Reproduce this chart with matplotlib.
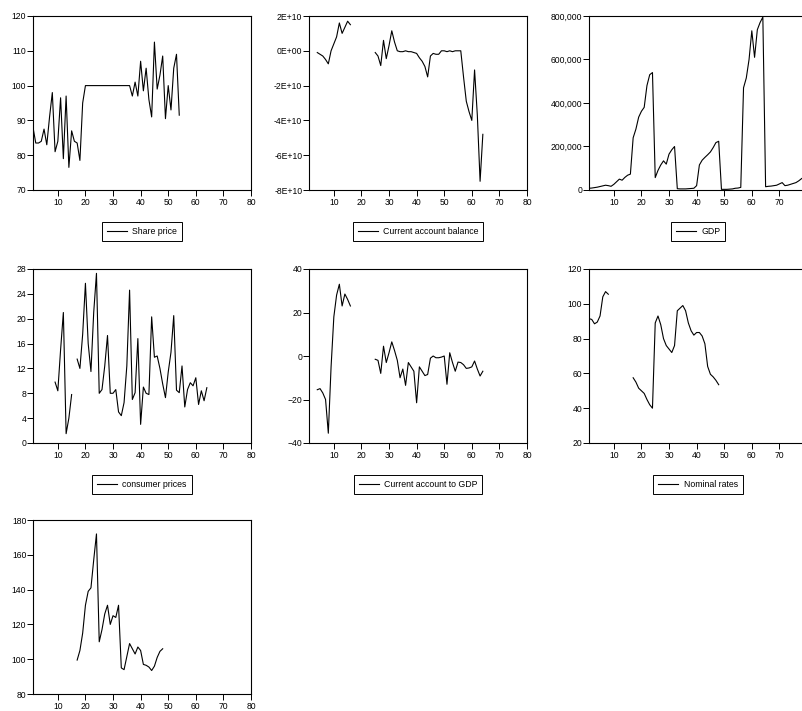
import numpy as np
import matplotlib
matplotlib.use("Agg")
import matplotlib.pyplot as plt
from matplotlib.ticker import FuncFormatter

plt.rcParams['font.family'] = ['Liberation Sans', 'DejaVu Sans']
plt.rcParams['font.size'] = 6

# share price, obs 1..54
share_x = np.arange(1, 55)
share_price = [88, 83.5, 83.5, 84, 87.5, 83, 91, 98, 81, 84,
               96.5, 79, 97, 76.5, 87, 84, 83.5, 78.5, 95, 100,
               100, 100, 100, 100, 100, 100, 100, 100, 100, 100,
               100, 100, 100, 100, 100, 100,
               97, 101, 97, 107, 98.5, 105, 96, 91, 112.5, 99,
               103, 108.5, 90.5, 100, 93, 105, 109, 91.5]

# current account balance (units of 1E+10), two segments
cab_x1 = np.arange(4, 17)
cab_1 = [-0.1, -0.2, -0.3, -0.5, -0.75, 0.0, 0.4, 0.8, 1.6, 1.0, 1.35, 1.7, 1.5]
cab_x2 = np.arange(25, 65)
cab_2 = [-0.1, -0.3, -0.85, 0.6, -0.45, 0.3, 1.15, 0.5, 0.0, -0.05,
         -0.05, 0.0, -0.05, -0.05, -0.1, -0.15, -0.4, -0.6, -0.9, -1.5,
         -0.3, -0.15, -0.2, -0.2, 0.0, 0.0, -0.05, 0.0, -0.05, 0.0,
         0.0, 0.0, -1.5, -2.9, -3.5, -4.0, -1.1, -3.7, -7.5, -4.8]

# GDP (thousands), obs 1..80
gdp_x = np.arange(1, 81)
gdp = [8, 9, 11, 13, 16, 19, 22, 20, 17, 26,
       38, 50, 45, 58, 68, 73, 240, 280, 335, 362,
       380, 480, 530, 540, 57, 90, 115, 134, 119, 165,
       185, 200, 6, 5, 5, 5, 6, 7, 8, 20,
       115, 137, 150, 162, 175, 195, 218, 224, 3, 3,
       3, 4, 5, 8, 9, 12, 470, 515, 600, 732,
       610, 737, 770, 795, 15, 17, 18, 20, 22, 28,
       34, 20, 22, 26, 30, 34, 42, 52, 60, 70]

# consumer prices
cpi_x1 = np.arange(9, 16)
cpi_1 = [9.8, 8.4, 15, 21, 1.5, 4, 7.8]
cpi_x2 = np.arange(17, 65)
cpi_2 = [13.5, 12, 17.5, 25.7, 16, 11.5, 21, 27.3, 8, 8.6,
         12.4, 17.3, 8, 8, 8.6, 5, 4.4, 6.5, 12.4, 24.6,
         7, 8.1, 16.8, 3, 9, 8, 7.8, 20.3, 13.8, 14,
         12, 9.5, 7.3, 11.4, 14.6, 20.5, 8.5, 8.1, 12.4, 5.8,
         8.6, 9.7, 9.2, 10.5, 6.2, 8.4, 6.8, 8.9]

# current account to GDP
cag_x1 = np.arange(4, 17)
cag_1 = [-15.5, -15, -17, -20, -35.5, -5, 18, 28, 33, 23, 28.5, 26, 23]
cag_x2 = np.arange(25, 65)
cag_2 = [-1.5, -2, -8, 4.5, -3, 1.5, 6.5, 2.5, -2, -10,
         -6, -13.5, -3, -5, -7, -21.5, -5, -7, -9, -8.5,
         -1, 0, -0.8, -0.8, -0.5, 0, -13, 1.5, -3, -7,
         -2.8, -3, -4, -5.7, -5.5, -5, -2.3, -6, -9.2, -7]

# nominal rates
nom_x1 = np.arange(1, 9)
nom_1 = [91.5, 91, 88.5, 89.5, 93, 104, 107, 105.5]
nom_x2 = np.arange(17, 49)
nom_2 = [57.5, 55, 51.5, 50, 48.5, 45, 42, 40, 89, 93,
         88, 80, 76, 74, 72, 76, 96, 97.5, 99, 96,
         89, 84.5, 82, 83.5, 83.5, 81.5, 77, 64, 59.5, 58,
         56, 53.5]

# seventh series (legend cut off in the source)
s7_x = np.arange(17, 49)
s7 = [99.5, 105, 115, 131, 139, 141, 157, 172, 110, 117,
      126, 131, 120, 125, 124, 131, 95, 94, 101.5, 109,
      106, 103, 107, 105, 97, 96.5, 95.5, 93.5, 96, 101,
      104.5, 106]

W, H = 802, 711
fig = plt.figure(figsize=(W / 100, H / 100), dpi=100)

col_left = [33, 309, 589]
row_top = [16, 269, 520]
aw, ah = 218, 174
legend_gap = 32


def make_axes(r, c):
    l, t = col_left[c], row_top[r]
    ax = fig.add_axes([l / W, 1 - (t + ah) / H, aw / W, ah / H])
    ax.set_xlim(1, 80)
    ax.set_xticks(range(10, 81, 10))
    ax.tick_params(direction='out', length=4, width=0.7,
                   labelsize=6.2, top=False, right=False)
    ax.tick_params(axis='x', pad=1.5)
    ax.tick_params(axis='y', pad=0.8)
    for s in ax.spines.values():
        s.set_linewidth(0.8)
    return ax


def add_legend(ax):
    ax.legend(loc='upper center', bbox_to_anchor=(0.5, -legend_gap / ah),
              frameon=True, fancybox=False, edgecolor='black',
              framealpha=1, fontsize=6.3, handlelength=2.3,
              handletextpad=0.6, borderpad=0.55, borderaxespad=0)
    ax.get_legend().get_frame().set_linewidth(0.7)


lw = 0.8

ax = make_axes(0, 0)
ax.plot(share_x, share_price, color='black', lw=lw, label='Share price')
ax.set_ylim(70, 120)
ax.set_yticks(range(70, 121, 10))
add_legend(ax)

ax = make_axes(0, 1)
ax.plot(cab_x1, np.array(cab_1) * 1e10, color='black', lw=lw,
        label='Current account balance')
ax.plot(cab_x2, np.array(cab_2) * 1e10, color='black', lw=lw)
ax.set_ylim(-8e10, 2e10)
ax.set_yticks(np.arange(-8e10, 2.1e10, 2e10))
ax.yaxis.set_major_formatter(FuncFormatter(lambda v, p: f"{v:.0E}"))
add_legend(ax)

ax = make_axes(0, 2)
ax.plot(gdp_x, np.array(gdp) * 1000, color='black', lw=lw, label='GDP')
ax.set_ylim(0, 800000)
ax.set_yticks(range(0, 800001, 200000))
ax.yaxis.set_major_formatter(FuncFormatter(lambda v, p: f"{v:,.0f}"))
add_legend(ax)

ax = make_axes(1, 0)
ax.plot(cpi_x1, cpi_1, color='black', lw=lw, label='consumer prices')
ax.plot(cpi_x2, cpi_2, color='black', lw=lw)
ax.set_ylim(0, 28)
ax.set_yticks(range(0, 29, 4))
add_legend(ax)

ax = make_axes(1, 1)
ax.plot(cag_x1, cag_1, color='black', lw=lw, label='Current account to GDP')
ax.plot(cag_x2, cag_2, color='black', lw=lw)
ax.set_ylim(-40, 40)
ax.set_yticks(range(-40, 41, 20))
add_legend(ax)

ax = make_axes(1, 2)
ax.plot(nom_x1, nom_1, color='black', lw=lw, label='Nominal rates')
ax.plot(nom_x2, nom_2, color='black', lw=lw)
ax.set_ylim(20, 120)
ax.set_yticks(range(20, 121, 20))
add_legend(ax)

ax = make_axes(2, 0)
ax.plot(s7_x, s7, color='black', lw=lw)
ax.set_ylim(80, 180)
ax.set_yticks(range(80, 181, 20))

fig.savefig('out.png', dpi=100)
